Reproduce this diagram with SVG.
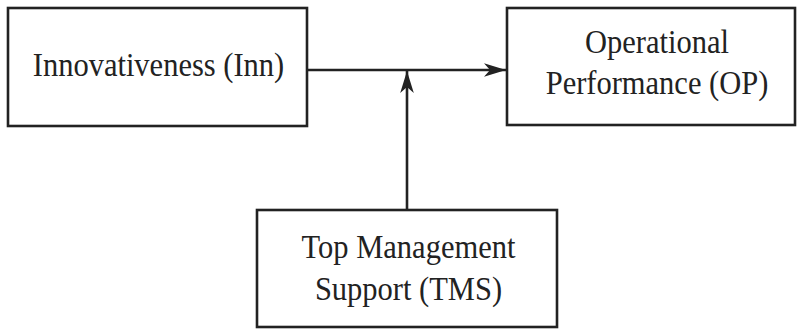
<svg xmlns="http://www.w3.org/2000/svg" width="800" height="329" viewBox="0 0 800 329">
<style>
.box{fill:#fff;stroke:#222;stroke-width:2.6}
.lbl{font-family:"Liberation Serif","Times New Roman",serif;font-size:30.5px;fill:#222;text-anchor:middle}
.edge{stroke:#222;stroke-width:2.6;fill:none}
</style>
<defs>
<marker id="arr" markerUnits="userSpaceOnUse" markerWidth="26" markerHeight="16" viewBox="-23 -8 25 16" refX="0" refY="0" orient="auto">
<path d="M0,0 L-22,-6.8 L-16,0 L-22,6.8 Z" fill="#222"/>
</marker>
</defs>
<rect width="800" height="329" fill="#fff"/>
<g id="connectors">
<line class="edge" x1="307" y1="70" x2="506" y2="70" marker-end="url(#arr)"/>
<line class="edge" x1="407" y1="210" x2="407" y2="71" marker-end="url(#arr)"/>
</g>
<g id="inn">
<rect class="box" x="8" y="8" width="299" height="118"/>
<text class="lbl" transform="translate(158.5,76) scale(1,1.13)">Innovativeness (Inn)</text>
</g>
<g id="op">
<rect class="box" x="507" y="8" width="288" height="117"/>
<text class="lbl" transform="translate(657,53) scale(1,1.13)">Operational</text>
<text class="lbl" transform="translate(657,94) scale(1,1.13)">Performance (OP)</text>
</g>
<g id="tms">
<rect class="box" x="257" y="210" width="300" height="117"/>
<text class="lbl" transform="translate(408.5,258) scale(1,1.13)">Top Management</text>
<text class="lbl" transform="translate(408.5,300) scale(1,1.13)">Support (TMS)</text>
</g>
</svg>
